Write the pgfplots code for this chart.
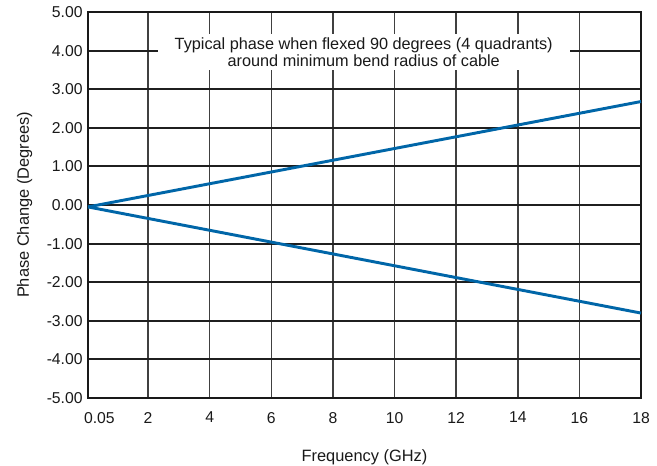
\documentclass[border=0pt]{standalone}
\usepackage{fontspec}
\setmainfont{Liberation Sans}
\usepackage{pgfplots}
\pgfplotsset{compat=1.18}
\definecolor{lineblue}{RGB}{0,102,168}
\begin{document}
\begin{tikzpicture}[x=0.75pt,y=0.75pt]
\begin{axis}[
  name=ax, at={(0,0)}, anchor=south west,
  scale only axis, width=414.75pt, height=289.5pt,
  xmin=0.05, xmax=18, ymin=-5, ymax=5,
  xtick={0.05,2,4,6,8,10,12,14,16,18},
  xticklabels={\hspace*{17pt}0.05,2,4,6,8,10,12,14,16,18},
  ytick={-5,-4,...,5},
  yticklabel={\pgfmathprintnumber[fixed,fixed zerofill,precision=2]{\tick}},
  /pgf/number format/assume math mode=true,
  tick style={draw=none},
  grid=major,
  x grid style={draw=black!75, line width=1.1pt},
  y grid style={draw=black!88, line width=1.6pt},
  axis line style={line width=1.6pt, draw=black!90},
  xlabel={Frequency (GHz)},
  ylabel={Phase Change (Degrees)},
  xlabel shift=13pt,
  ylabel shift=4pt,
  xticklabel style={yshift=-7pt},
  yticklabel style={xshift=-0.5pt},
  label style={font=\fontsize{12.3}{14}\selectfont, text=black!90},
  ticklabel style={font=\fontsize{11.8}{14}\selectfont, text=black!90},
  clip=false,
]
\addplot[lineblue, line width=2.2pt] coordinates {(0.05,-0.05) (18,2.68)};
\addplot[lineblue, line width=2.2pt] coordinates {(0.05,-0.05) (18,-2.80)};
\node[fill=white, minimum width=309pt, minimum height=27pt, align=center, inner sep=0pt,
  font=\fontsize{12.2}{12.8}\selectfont, text=black!90] at (axis cs:9.0,3.97)
  {Typical phase when flexed 90 degrees (4 quadrants)\\around minimum bend radius of cable};
\end{axis}
\pgfresetboundingbox
\path[use as bounding box] (-88,-68) rectangle (569,398);
\end{tikzpicture}
\end{document}
